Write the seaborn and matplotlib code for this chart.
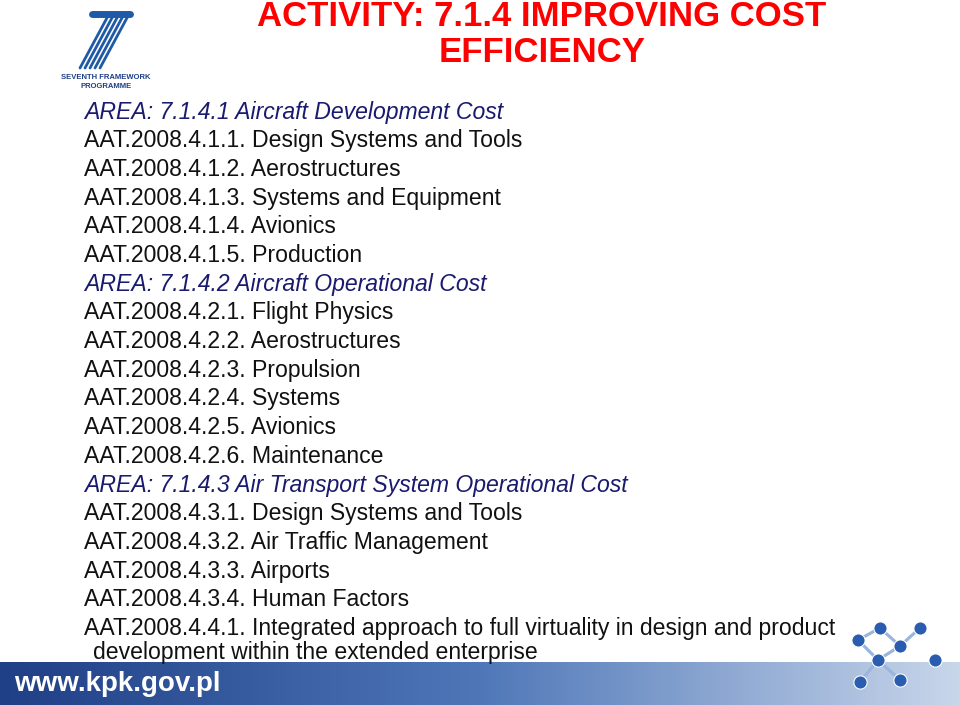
import matplotlib
matplotlib.use("Agg")
import matplotlib.pyplot as plt
import seaborn as sns
import numpy as np

sns.set_theme(style="white", font="Liberation Sans")

title_lines = ["ACTIVITY: 7.1.4 IMPROVING COST", "EFFICIENCY"]

body_lines = [
    "AREA: 7.1.4.1 Aircraft Development Cost",
    "AAT.2008.4.1.1. Design Systems and Tools",
    "AAT.2008.4.1.2. Aerostructures",
    "AAT.2008.4.1.3. Systems and Equipment",
    "AAT.2008.4.1.4. Avionics",
    "AAT.2008.4.1.5. Production",
    "AREA: 7.1.4.2 Aircraft Operational Cost",
    "AAT.2008.4.2.1. Flight Physics",
    "AAT.2008.4.2.2. Aerostructures",
    "AAT.2008.4.2.3. Propulsion",
    "AAT.2008.4.2.4. Systems",
    "AAT.2008.4.2.5. Avionics",
    "AAT.2008.4.2.6. Maintenance",
    "AREA: 7.1.4.3 Air Transport System Operational Cost",
    "AAT.2008.4.3.1. Design Systems and Tools",
    "AAT.2008.4.3.2. Air Traffic Management",
    "AAT.2008.4.3.3. Airports",
    "AAT.2008.4.3.4. Human Factors",
    "AAT.2008.4.4.1. Integrated approach to full virtuality in design and product",
]
last_line = "development within the extended enterprise"
footer_text = "www.kpk.gov.pl"

fig = plt.figure(figsize=(9.6, 7.05), dpi=100)
ax = fig.add_axes([0, 0, 1, 1])

# title
for i, t in enumerate(title_lines):
    ax.text(542, 16 + 37 * i, t, color="#ff0000", fontsize=25, fontweight="bold",
            ha="center", va="center")

# body
y0, step = 112, 28.7
for i, t in enumerate(body_lines):
    is_area = t.startswith("AREA")
    ax.text(84, y0 + step * i, t, fontsize=16.6, va="center",
            color="#1a1a6e" if is_area else "#111111",
            style="italic" if is_area else "normal")
ax.text(93, 652, last_line, fontsize=16.6, va="center", color="#111111")

# footer band
grad = np.linspace(0, 1, 256).reshape(1, -1)
ax.imshow(grad, extent=[0, 960, 705, 662], cmap=matplotlib.colors.LinearSegmentedColormap.from_list(
    "f", ["#1f3f86", "#4f77b8", "#c8d6ea"]), aspect="auto", zorder=1)
ax.text(14, 684, footer_text, fontsize=20, fontweight="bold", color="white", va="center", zorder=3)

# FP7 logo
ax.plot([92, 130], [14, 14], color="#1f5aa6", lw=5)
for dx in range(0, 24, 5):
    ax.plot([128 - dx, 100 - dx], [16, 68], color="#1f5aa6", lw=2)
ax.text(106, 79, "SEVENTH FRAMEWORK", fontsize=5.5, fontweight="bold", color="#1f3f86", ha="center")
ax.text(106, 88, "PROGRAMME", fontsize=5.5, fontweight="bold", color="#1f3f86", ha="center")

# molecule logo
nodes = [(858, 640), (880, 628), (900, 646), (878, 660), (920, 628), (935, 660), (900, 680), (860, 682)]
for a in nodes:
    for b in nodes:
        if 0 < np.hypot(a[0] - b[0], a[1] - b[1]) < 30:
            ax.plot([a[0], b[0]], [a[1], b[1]], color="#9bb6dc", lw=2, zorder=4)
sns.scatterplot(x=[n[0] for n in nodes], y=[n[1] for n in nodes], s=90, color="#2a5db0",
                edgecolor="white", ax=ax, zorder=5)
ax.set_xlim(0, 960)
ax.set_ylim(705, 0)
ax.axis("off")

fig.savefig("out.png", dpi=100)
